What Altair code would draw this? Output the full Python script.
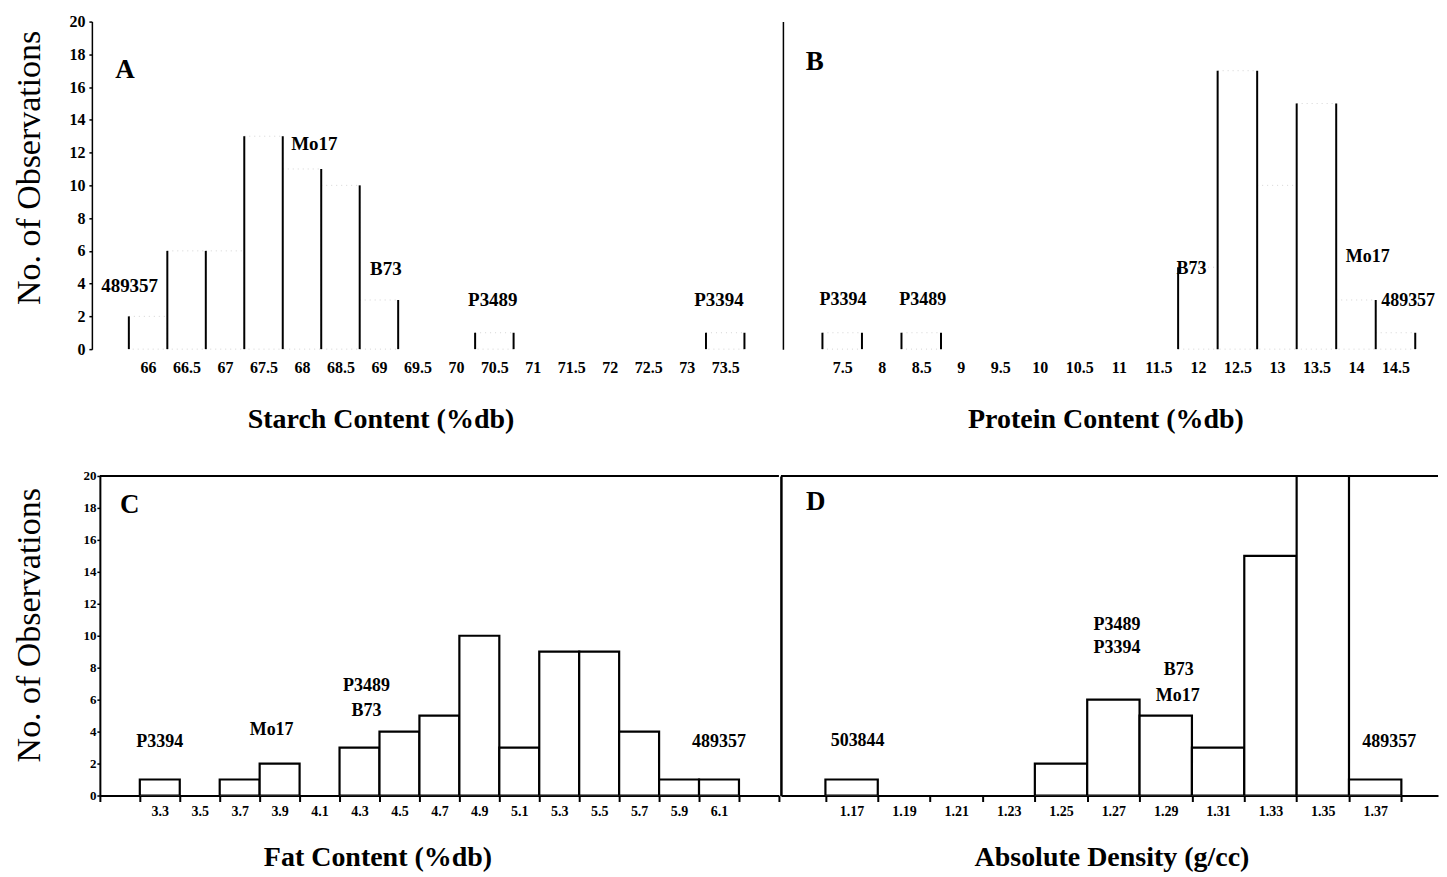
import altair as alt
import pandas as pd

FONT = "Liberation Serif"

# ---------------- data ----------------
starch_bins = [65.5, 66.0, 66.5, 67.0, 67.5, 68.0, 68.5, 69.0, 69.5, 70.0, 70.5, 71.0, 71.5, 72.0, 72.5, 73.0, 73.5, 74.0]
starch_counts = [0, 2, 6, 6, 13, 11, 10, 3, 0, 0, 1, 0, 0, 0, 0, 0, 1, 0]
starch_ticks = [66, 66.5, 67, 67.5, 68, 68.5, 69, 69.5, 70, 70.5, 71, 71.5, 72, 72.5, 73, 73.5]

protein_bins = [7.0, 7.5, 8.0, 8.5, 9.0, 9.5, 10.0, 10.5, 11.0, 11.5, 12.0, 12.5, 13.0, 13.5, 14.0, 14.5]
protein_counts = [0, 1, 0, 1, 0, 0, 0, 0, 0, 0, 5, 17, 10, 15, 3, 1]
protein_ticks = [7.5, 8, 8.5, 9, 9.5, 10, 10.5, 11, 11.5, 12, 12.5, 13, 13.5, 14, 14.5]

fat_bins = [3.1, 3.3, 3.5, 3.7, 3.9, 4.1, 4.3, 4.5, 4.7, 4.9, 5.1, 5.3, 5.5, 5.7, 5.9, 6.1, 6.3]
fat_counts = [0, 1, 0, 1, 2, 0, 3, 4, 5, 10, 3, 9, 9, 4, 1, 1, 0]
fat_ticks = [3.3, 3.5, 3.7, 3.9, 4.1, 4.3, 4.5, 4.7, 4.9, 5.1, 5.3, 5.5, 5.7, 5.9, 6.1]

density_bins = [1.17, 1.19, 1.21, 1.23, 1.25, 1.27, 1.29, 1.31, 1.33, 1.35, 1.37]
density_counts = [1, 0, 0, 0, 2, 6, 5, 3, 15, 20, 1]
density_ticks = [1.17, 1.19, 1.21, 1.23, 1.25, 1.27, 1.29, 1.31, 1.33, 1.35, 1.37]

y_ticks = [0, 2, 4, 6, 8, 10, 12, 14, 16, 18, 20]

starch_notes = ["489357", "Mo17", "B73", "P3489", "P3394"]
starch_note_x = [65.76, 68.16, 69.09, 70.48, 73.42]
starch_note_y = [3.84, 12.5, 4.88, 2.99, 2.99]

protein_notes = ["P3394", "P3489", "B73", "Mo17", "489357"]
protein_note_x = [7.51, 8.52, 11.92, 14.15, 14.66]
protein_note_y = [2.99, 2.99, 4.88, 5.61, 2.93]

fat_notes = ["P3394", "Mo17", "P3489", "B73", "489357"]
fat_note_x = [3.30, 3.86, 4.335, 4.335, 6.10]
fat_note_y = [3.375, 4.125, 6.875, 5.31, 3.375]

density_notes = ["503844", "P3489", "P3394", "B73", "Mo17", "489357"]
density_note_x = [1.1723, 1.2714, 1.2714, 1.295, 1.2946, 1.3754]
density_note_y = [3.44, 10.69, 9.25, 7.875, 6.25, 3.375]

letters = ["A", "B", "C", "D"]
letter_x = [65.70, 7.154, 3.15, 1.1563]
letter_y = [17.07, 17.56, 18.19, 18.375]

Y_TITLE = "No. of Observations"


def bin_frame(bins, counts, w):
    df = pd.DataFrame({"center": bins, "count": counts})
    df["lo"] = df["center"] - w / 2
    df["hi"] = df["center"] + w / 2
    return df


def edge_frame(bins, counts, w):
    xs, hs = [], []
    for i in range(len(bins) + 1):
        left = counts[i - 1] if i > 0 else 0
        right = counts[i] if i < len(counts) else 0
        h = max(left, right)
        if h > 0:
            xs.append(round(bins[0] - w / 2 + i * w, 4))
            hs.append(h)
    return pd.DataFrame({"x": xs, "h": hs})


def notes_frame(labels, xs, ys):
    return pd.DataFrame({"label": labels, "x": xs, "y": ys})


def top_panel(bins, counts, w, dom, ticks, width, height, xtitle, xtitle_x,
              letter_idx, notes, left_axis, note_size):
    df = bin_frame(bins, counts, w)
    df = df[df["count"] > 0]
    edges = edge_frame(bins, counts, w)
    xscale = alt.Scale(domain=dom, nice=False, zero=False)
    yscale = alt.Scale(domain=[0, 20], nice=False)
    if left_axis:
        yaxis = alt.Axis(values=y_ticks, title=Y_TITLE, titleX=-62,
                         titleY=146, titleAngle=270, titleBaseline="middle",
                         titleFont=FONT, titleFontSize=34, titleFontWeight="normal",
                         tickSize=3, tickWidth=1.5, labelPadding=4, domainWidth=1.5,
                         labelFontSize=16, labelOverlap=False, offset=8)
    else:
        yaxis = alt.Axis(labels=False, ticks=False, title=None, domainWidth=1.5)
    xaxis = alt.Axis(values=ticks, ticks=False, tickSize=0, domain=False,
                     labelExpr="'' + datum.value", labelPadding=10,
                     labelOverlap=False, labelFlush=False, labelFontSize=16,
                     title=xtitle, titleX=xtitle_x, titleY=70, titleBaseline="middle",
                     titleFont=FONT, titleFontSize=28, titleFontWeight="bold")

    def X(f):
        return alt.X(f, scale=xscale, axis=xaxis)

    def Y(f):
        return alt.Y(f, scale=yscale, axis=yaxis)

    bars = alt.Chart(df).mark_rect(fillOpacity=0, stroke="#d4d4d4", strokeWidth=1,
                                   strokeDash=[1, 4]).encode(
        x=X("lo:Q"), x2="hi:Q", y=Y("count:Q"), y2=alt.datum(0),
    )
    rules = alt.Chart(edges).mark_rule(color="black", strokeWidth=2).encode(
        x=X("x:Q"), y=Y("h:Q"), y2=alt.datum(0)
    )
    text = alt.Chart(notes).mark_text(font=FONT, fontSize=note_size, fontWeight="bold",
                                      color="black").encode(
        x=X("x:Q"), y=Y("y:Q"), text="label:N"
    )
    ldf = pd.DataFrame({"label": [letters[letter_idx]], "x": [letter_x[letter_idx]],
                        "y": [letter_y[letter_idx]]})
    let = alt.Chart(ldf).mark_text(font=FONT, fontSize=27, fontWeight="bold",
                                   color="black").encode(x=X("x:Q"), y=Y("y:Q"), text="label:N")
    return alt.layer(bars, rules, text, let).properties(width=width, height=height)


def bottom_panel(bins, counts, w, dom, ticks, digits, half_px, width, height, xtitle,
                 xtitle_x, letter_idx, notes, left_axis):
    df = bin_frame(bins, counts, w)
    df = df[df["count"] > 0]
    edge_vals = [round(bins[0] - w / 2 + i * w, 4) for i in range(len(bins) + 1)]
    # labels are attached to the right edge of each labelled bin and shifted left
    lo_lab = round(min(ticks) + w / 4, 4)
    hi_lab = round(max(ticks) + 3 * w / 4, 4)
    xscale = alt.Scale(domain=dom, nice=False, zero=False)
    yscale = alt.Scale(domain=[0, 20], nice=False)
    if left_axis:
        yaxis = alt.Axis(values=y_ticks, title=Y_TITLE, titleX=-70,
                         titleY=149, titleAngle=270, titleBaseline="middle",
                         titleFont=FONT, titleFontSize=34, titleFontWeight="normal",
                         tickSize=3, tickWidth=1.5, labelPadding=1, domainWidth=2,
                         labelFontSize=13, labelOverlap=False)
    else:
        yaxis = alt.Axis(labels=False, ticks=False, title=None, domainWidth=2.5)
    xaxis = alt.Axis(values=edge_vals,
                     labelExpr=(f"(datum.value > {lo_lab} && datum.value < {hi_lab}) ? "
                                f"format(datum.value - {w / 2}, '.{digits}f') : ''"),
                     labelOffset=-half_px,
                     tickSize=6, tickWidth=2, domainWidth=2, labelPadding=3,
                     labelOverlap=False, labelFlush=False, labelFontSize=14,
                     title=xtitle, titleX=xtitle_x, titleY=62, titleBaseline="middle",
                     titleFont=FONT, titleFontSize=28, titleFontWeight="bold")

    def X(f):
        return alt.X(f, scale=xscale, axis=xaxis)

    def Y(f):
        return alt.Y(f, scale=yscale, axis=yaxis)

    bars = alt.Chart(df).mark_rect(fill="white", stroke="black", strokeWidth=2.2,
                                   clip=True).encode(
        x=X("lo:Q"), x2="hi:Q", y=Y("count:Q"), y2=alt.datum(0),
    )
    frame = alt.Chart(pd.DataFrame({"v": [20]})).mark_rule(color="black", strokeWidth=2).encode(
        y=Y("v:Q")
    )
    text = alt.Chart(notes).mark_text(font=FONT, fontSize=18, fontWeight="bold",
                                      color="black").encode(
        x=X("x:Q"), y=Y("y:Q"), text="label:N"
    )
    ldf = pd.DataFrame({"label": [letters[letter_idx]], "x": [letter_x[letter_idx]],
                        "y": [letter_y[letter_idx]]})
    let = alt.Chart(ldf).mark_text(font=FONT, fontSize=27, fontWeight="bold",
                                   color="black").encode(x=X("x:Q"), y=Y("y:Q"), text="label:N")
    return alt.layer(bars, frame, text, let).properties(width=width, height=height)


pa = top_panel(starch_bins, starch_counts, 0.5, [65.3734, 74.25], starch_ticks, 684, 328,
               "Starch Content (%db)", 281, 0,
               notes_frame(starch_notes, starch_note_x, starch_note_y), True, 19)
pb = top_panel(protein_bins, protein_counts, 0.5, [6.75, 15.0], protein_ticks, 653, 328,
               "Protein Content (%db)", 323, 1,
               notes_frame(protein_notes, protein_note_x, protein_note_y), False, 18)
pc = bottom_panel(fat_bins, fat_counts, 0.2, [3.0, 6.4], fat_ticks, 1, 20, 680, 320,
                  "Fat Content (%db)", 278, 2,
                  notes_frame(fat_notes, fat_note_x, fat_note_y), True)
pd_ = bottom_panel(density_bins, density_counts, 0.02, [1.143, 1.394], density_ticks, 2, 26.25,
                   658, 320, "Absolute Density (g/cc)", 331, 3,
                   notes_frame(density_notes, density_note_x, density_note_y), False)

top = alt.hconcat(pa, pb, spacing=0)
bottom = alt.hconcat(pc, pd_, spacing=0)

chart = alt.vconcat(top, bottom, spacing=37).properties(
    padding={"left": 5, "top": 5, "right": 0, "bottom": 0}
).configure_view(stroke=None).configure_axis(
    grid=False, labelFont=FONT, labelFontWeight="bold", labelColor="black",
    domainColor="black", tickColor="black", titleColor="black", labelOverlap=False
).configure_concat(spacing=0)

chart.save("out.html", embed_options={"renderer": "svg", "actions": False})
